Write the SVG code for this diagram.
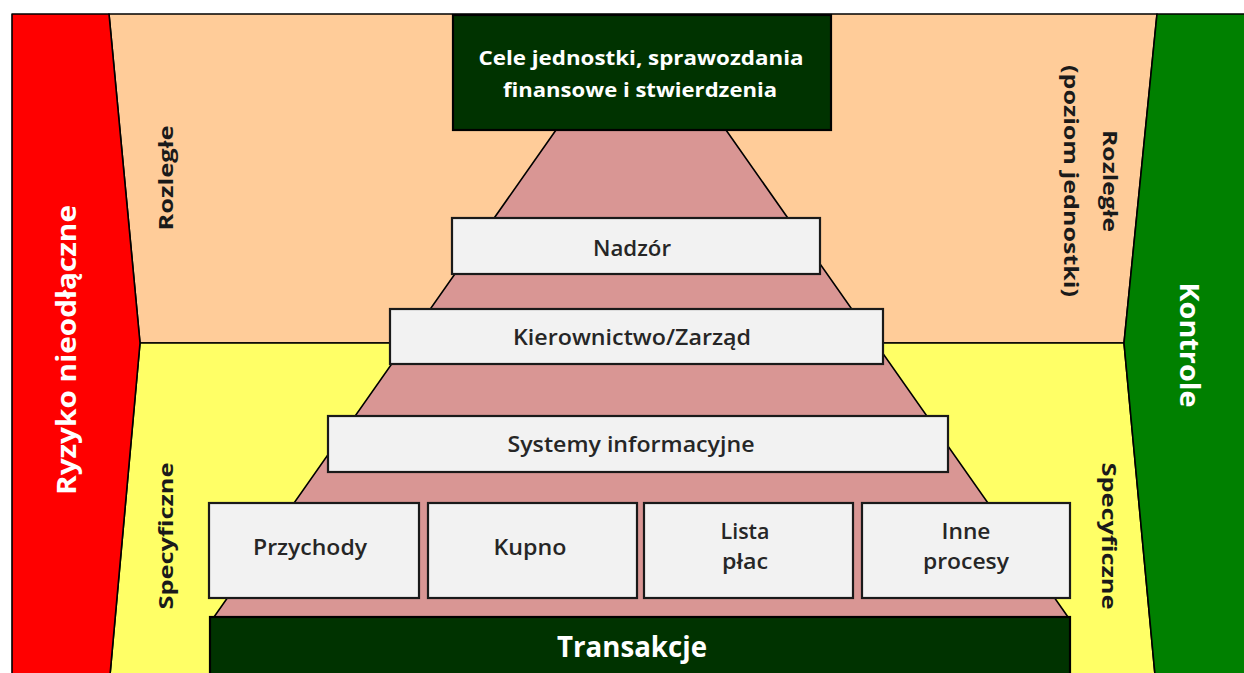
<svg xmlns="http://www.w3.org/2000/svg" width="1244" height="673" viewBox="0 0 1244 673">
<style>
.zone{stroke:#000;stroke-width:1.6;stroke-linejoin:round}
.box{fill:#F2F2F2;stroke:#1a1a1a;stroke-width:2.2}
.dbox{fill:#003300;stroke:#000;stroke-width:2.2}
.lbl{font-family:"Open Sans","Liberation Sans",sans-serif;font-weight:600;font-size:21px;fill:#262626;text-anchor:middle}
.wlbl{font-family:"Open Sans","Liberation Sans",sans-serif;font-weight:700;fill:#FFFFFF;text-anchor:middle}
.side{font-family:"Open Sans","Liberation Sans",sans-serif;font-weight:700;font-size:19px;fill:#1a1a1a;text-anchor:middle}
</style>
<rect width="1244" height="673" fill="#FFFFFF"/>
<g id="background">
  <polygon class="zone" points="109,14 1157,14 1124,343 140,343" fill="#FFCC99"/>
  <polygon class="zone" points="140,343 1124,343 1155,675 110,675" fill="#FFFF66"/>
  <polygon id="ryzyko-shape" class="zone" points="12,14 109,14 140,343 110,675 12,675" fill="#FF0000"/>
  <polygon id="kontrole-shape" class="zone" points="1157,14 1246,14 1246,675 1155,675 1124,343" fill="#008000"/>
  <polygon id="pyramid" class="zone" points="556,130 726,130 1068,617 214,617" fill="#D99694"/>
</g>
<g id="ryzyko">
  <text class="wlbl" font-size="26" transform="translate(76,350) rotate(-90)" textLength="290" lengthAdjust="spacingAndGlyphs">Ryzyko nieodłączne</text>
</g>
<g id="kontrole">
  <text class="wlbl" font-size="26" transform="translate(1180,345) rotate(90)" textLength="125" lengthAdjust="spacingAndGlyphs">Kontrole</text>
</g>
<g id="side-labels">
  <text class="side" transform="translate(173,178) rotate(-90)" textLength="105" lengthAdjust="spacingAndGlyphs">Rozległe</text>
  <text class="side" transform="translate(173,536) rotate(-90)" textLength="147" lengthAdjust="spacingAndGlyphs">Specyficzne</text>
  <text class="side" transform="translate(1103,181) rotate(90)" textLength="102" lengthAdjust="spacingAndGlyphs">Rozległe</text>
  <text class="side" transform="translate(1064,181) rotate(90)" textLength="232" lengthAdjust="spacingAndGlyphs">(poziom jednostki)</text>
  <text class="side" transform="translate(1102,536) rotate(90)" textLength="147" lengthAdjust="spacingAndGlyphs">Specyficzne</text>
</g>
<g id="cele">
  <rect class="dbox" x="453" y="15" width="378" height="115"/>
  <text class="wlbl" font-size="20" x="641" y="65" textLength="325" lengthAdjust="spacingAndGlyphs">Cele jednostki, sprawozdania</text>
  <text class="wlbl" font-size="20" x="640" y="97" textLength="274" lengthAdjust="spacingAndGlyphs">finansowe i stwierdzenia</text>
</g>
<g id="nadzor">
  <rect class="box" x="452" y="218" width="368" height="56"/>
  <text class="lbl" x="632" y="256" textLength="78" lengthAdjust="spacingAndGlyphs">Nadzór</text>
</g>
<g id="kierownictwo">
  <rect class="box" x="390" y="309" width="493" height="55"/>
  <text class="lbl" x="632" y="345" textLength="238" lengthAdjust="spacingAndGlyphs">Kierownictwo/Zarząd</text>
</g>
<g id="systemy">
  <rect class="box" x="328" y="416" width="620" height="56"/>
  <text class="lbl" x="631" y="452" textLength="247" lengthAdjust="spacingAndGlyphs">Systemy informacyjne</text>
</g>
<g id="przychody">
  <rect class="box" x="209" y="503" width="210" height="95"/>
  <text class="lbl" x="310" y="555" textLength="114" lengthAdjust="spacingAndGlyphs">Przychody</text>
</g>
<g id="kupno">
  <rect class="box" x="428" y="503" width="209" height="95"/>
  <text class="lbl" x="530" y="555" textLength="73" lengthAdjust="spacingAndGlyphs">Kupno</text>
</g>
<g id="lista-plac">
  <rect class="box" x="644" y="503" width="209" height="95"/>
  <text class="lbl" x="745" y="539" textLength="49" lengthAdjust="spacingAndGlyphs">Lista</text>
  <text class="lbl" x="745" y="569" textLength="46" lengthAdjust="spacingAndGlyphs">płac</text>
</g>
<g id="inne-procesy">
  <rect class="box" x="862" y="503" width="208" height="95"/>
  <text class="lbl" x="966" y="539" textLength="49" lengthAdjust="spacingAndGlyphs">Inne</text>
  <text class="lbl" x="966" y="569" textLength="86" lengthAdjust="spacingAndGlyphs">procesy</text>
</g>
<g id="transakcje">
  <rect class="dbox" x="210" y="617" width="860" height="62"/>
  <text class="wlbl" font-size="28" x="632" y="657" textLength="150" lengthAdjust="spacingAndGlyphs">Transakcje</text>
</g>
</svg>
